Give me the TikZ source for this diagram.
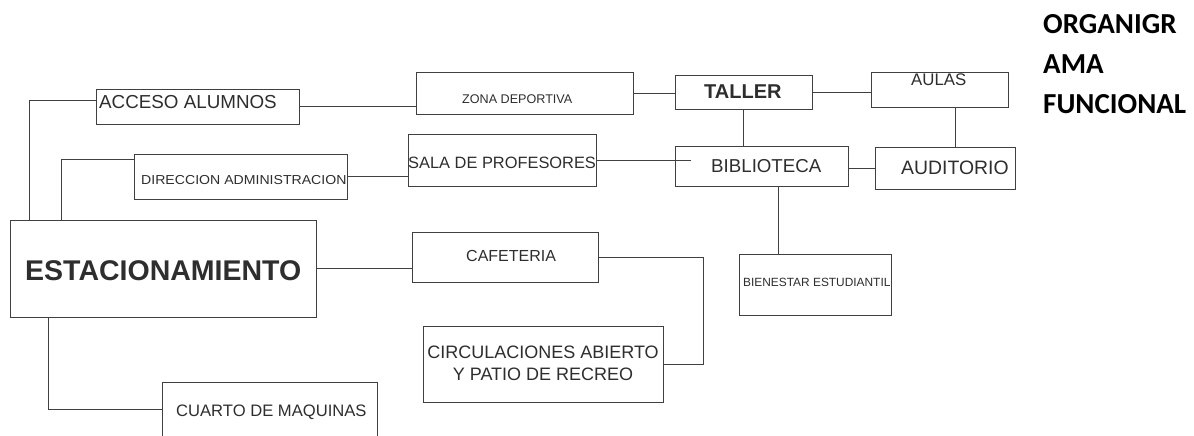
\documentclass[tikz,border=0pt]{standalone}
\usepackage{fontspec}
\usepackage{graphicx}
\setmainfont{Liberation Sans}
\newfontfamily\titlefont{Carlito}
\definecolor{linec}{HTML}{404040}
\definecolor{textc}{HTML}{2E2E2E}
\tikzset{
  box/.style={draw=linec, line width=1pt, inner sep=0pt, rectangle},
  conn/.style={draw=linec, line width=1pt},
  txt/.style={inner sep=0pt, anchor=base west, text=textc},
}
\newcommand{\fs}[1]{\fontsize{#1}{#1}\selectfont}
\begin{document}
\begin{tikzpicture}[x=1pt,y=-1pt]
\useasboundingbox[fill=white] (0,0) rectangle (1194,436);

% boxes
\node[box, minimum width=203pt, minimum height=35pt] (acceso) at (197.5,106.5) {};
\node[box, minimum width=213pt, minimum height=45pt] (direc) at (240.5,176.5) {};
\node[box, minimum width=306pt, minimum height=97pt] (estac) at (163,268.5) {};
\node[draw=none, inner sep=0pt, minimum width=214pt, minimum height=53pt] (cuarto) at (270,409.5) {};
\node[box, minimum width=217pt, minimum height=41pt] (zona) at (524.5,93.5) {};
\node[box, minimum width=137pt, minimum height=33pt] (taller) at (743.5,92.5) {};
\node[box, minimum width=137pt, minimum height=34pt] (aulas) at (939.5,90) {};
\node[box, minimum width=188pt, minimum height=52pt] (sala) at (502,160) {};
\node[box, minimum width=173pt, minimum height=40pt] (biblio) at (761.5,166) {};
\node[box, minimum width=140pt, minimum height=42pt] (aud) at (945,168) {};
\node[box, minimum width=186pt, minimum height=50pt] (cafe) at (505,257) {};
\node[box, minimum width=240pt, minimum height=76pt] (circ) at (543,364) {};
\node[box, minimum width=152pt, minimum height=61pt] (bien) at (815,284.5) {};

% open box (cut by the page edge)
\draw[conn] (cuarto.south west) -- (cuarto.north west) -- (cuarto.north east) -- (cuarto.south east);

% texts
\node[txt, font=\fs{18.8}] (tacceso) at (99,108) {ACCESO ALUMNOS};
\node[txt, font=\fs{13}] (tdirec) at (141,184) {\scalebox{1.085}[1]{DIRECCION ADMINISTRACION}};
\node[txt, font=\bfseries\fs{28.5}] (testac) at (25,280) {ESTACIONAMIENTO};
\node[txt, font=\fs{16.6}] (tcuarto) at (176,416) {CUARTO DE MAQUINAS};
\node[txt, font=\fs{12.6}] (tzona) at (462,103) {ZONA DEPORTIVA};
\node[txt, font=\bfseries\fs{20}] (ttaller) at (704,98) {TALLER};
\node[txt, font=\fs{16.8}] (taulas) at (911,85) {AULAS};
\node[txt, font=\fs{16.4}] (tsala) at (408,168) {SALA DE PROFESORES};
\node[txt, font=\fs{18.7}] (tbiblio) at (711,172) {BIBLIOTECA};
\node[txt, font=\fs{19.4}] (taud) at (901,174) {AUDITORIO};
\node[txt, font=\fs{16}] (tcafe) at (466,261) {CAFETERIA};
\node[inner sep=0pt, text=textc, align=center, font=\fontsize{18}{22}\selectfont] (tcirc) at (543,363.5) {CIRCULACIONES ABIERTO\\Y PATIO DE RECREO};
\node[txt, font=\fs{11.9}] (tbien) at (743,286) {BIENESTAR ESTUDIANTIL};

% title
\node[inner sep=0pt, anchor=north west, align=left, font=\titlefont\bfseries\fontsize{29}{40}\selectfont] (title) at (1043,14) {ORGANIGR\\AMA\\FUNCIONAL};

% connectors
\draw[conn] ([yshift=6.5pt]acceso.west) -| ([xshift=20pt]estac.north west);
\draw[conn] ([yshift=17.5pt]direc.west) -| ([xshift=52pt]estac.north west);
\draw[conn] (acceso.east) -- (acceso.east -| zona.west);
\draw[conn] (zona.east) -- (zona.east -| taller.west);
\draw[conn] (taller.east) -- (taller.east -| aulas.west);
\draw[conn] (taller.south) -- (taller.south |- biblio.north);
\draw[conn] (direc.east) -- (direc.east -| sala.west);
\draw[conn] (sala.east) -- ([xshift=16pt]sala.east -| biblio.west);
\draw[conn] (aud.west) -- (aud.west -| biblio.east);
\draw[conn] ([xshift=10pt]aud.north) -- ([xshift=10pt]aud.north |- aulas.south);
\draw[conn] ([xshift=16.5pt]biblio.south) -- ([xshift=16.5pt]biblio.south |- bien.north);
\draw[conn] (estac.east) -- (estac.east -| cafe.west);
\coordinate (k) at (703,258);
\draw[conn] (cafe.east) -- (cafe.east -| k) |- (circ.east);
\draw[conn] ([xshift=39pt]estac.south west) |- (cuarto.west);
\end{tikzpicture}
\end{document}
